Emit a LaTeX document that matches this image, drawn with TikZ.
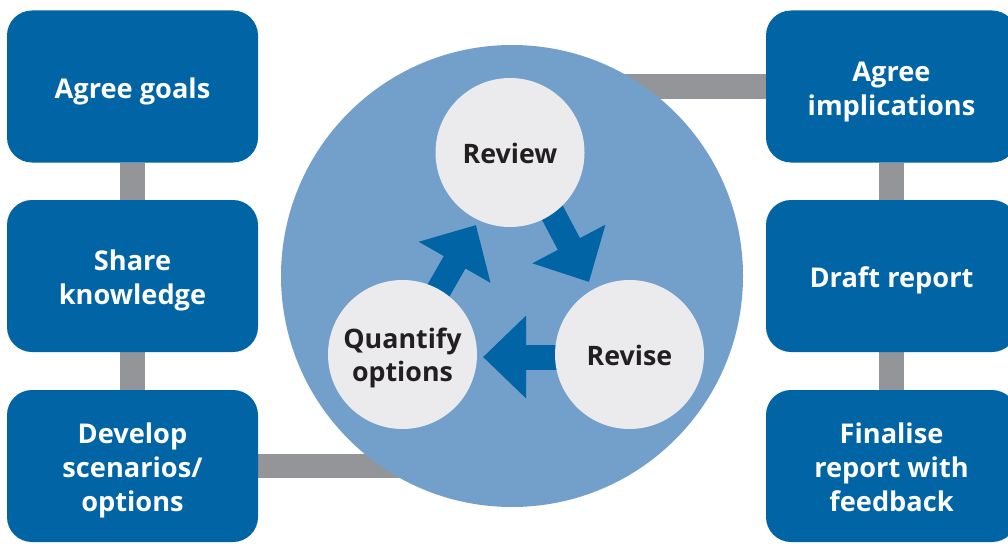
\documentclass[tikz,border=0pt]{standalone}
\usepackage{fontspec}
\setmainfont{Open Sans}
\usetikzlibrary{arrows.meta,calc}
\definecolor{boxblue}{HTML}{0064A5}
\definecolor{ringblue}{HTML}{72A0CB}
\definecolor{bubblegrey}{HTML}{EBEBED}
\definecolor{bargrey}{HTML}{939598}
\definecolor{ink}{HTML}{231F20}
\pgfdeclarelayer{back}
\pgfdeclarelayer{mid}
\pgfsetlayers{back,mid,main}
\newcommand\stacktext[2]{\raisebox{#1}[\height][\depth]{\begin{tabular}{@{}c@{}}#2\end{tabular}}}
\begin{document}
\begin{tikzpicture}[x=1pt,y=-1pt,
  stepbox/.style={fill=boxblue, rounded corners=25pt, minimum width=251pt,
    minimum height=152pt, text=white, inner sep=0pt,
    font=\bfseries\fontsize{27.2}{34}\selectfont},
  bubblenode/.style={circle, fill=bubblegrey, minimum size=149pt, inner sep=0pt,
    text=ink, font=\bfseries\fontsize{26.8}{33.5}\selectfont},
  bar/.style={draw=bargrey, line width=24.5pt},
  flow/.style={draw=boxblue, line width=25pt,
    -{Triangle[length=43pt,width=80pt]}}]
\clip (0,0) rectangle (1008,543);
\coordinate (rc) at (512,276);
% boxes
\node[stepbox] (l1) at (132.5,86.5) {\stacktext{-4.8pt}{Agree goals}};
\node[stepbox] (l2) at (132.5,276) {\stacktext{-4.8pt}{Share\\knowledge}};
\node[stepbox] (l3) at (132.5,466) {\stacktext{-4.2pt}{Develop\\scenarios/\\options}};
\node[stepbox] (r1) at (891.5,86.5) {\stacktext{-4.8pt}{Agree\\implications}};
\node[stepbox] (r2) at (891.5,276) {\stacktext{-4.8pt}{Draft report}};
\node[stepbox] (r3) at (891.5,466) {\stacktext{-4.2pt}{Finalise\\report with\\feedback}};
% inner cycle
\node[bubblenode] (rv) at (510,152.5) {\stacktext{-4pt}{Review}};
\node[bubblenode] (rs) at (629.5,354.5) {\stacktext{-4pt}{Revise}};
\node[bubblenode] (qo) at (402.5,354.5) {\stacktext{-4pt}{Quantify\\options}};
\begin{pgfonlayer}{back}
  \draw[bar] (l1.south) -- (l2.north);
  \draw[bar] (l2.south) -- (l3.north);
  \draw[bar] (r1.south) -- (r2.north);
  \draw[bar] (r2.south) -- (r3.north);
  \draw[bar] (l3.east) -- (l3.east -| rc);
  \draw[bar] (r1.west) -- (r1.west -| rc);
  \node[circle, fill=ringblue, minimum size=462pt, inner sep=0pt] (ring) at (rc) {};
\end{pgfonlayer}
\begin{pgfonlayer}{mid}
  \coordinate (s1) at (537.6,184.8);
  \coordinate (t1) at (589,282);
  \coordinate (s2) at (593,357);
  \coordinate (t2) at (483,357);
  \coordinate (s3) at (421.3,320.5);
  \coordinate (t3) at (476,225);
  \draw[flow] (s1) -- (t1);
  \draw[flow] (s2) -- (t2);
  \draw[flow] (s3) -- (t3);
\end{pgfonlayer}
\end{tikzpicture}
\end{document}
